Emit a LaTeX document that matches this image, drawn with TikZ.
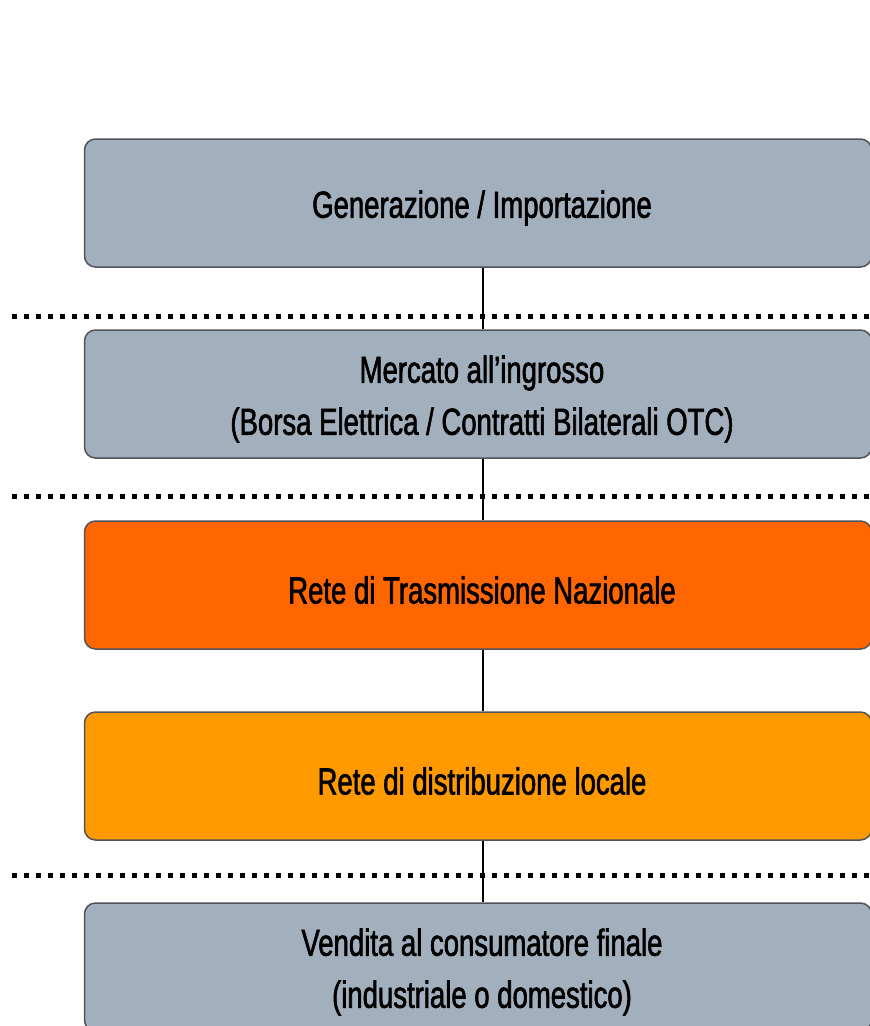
\documentclass[tikz,border=0pt]{standalone}
\usepackage{fontspec}
\setmainfont{Liberation Sans}[FakeStretch=0.73,FakeBold=1.6]
\usepackage{tikz}

\definecolor{boxgrey}{RGB}{162,175,189}
\definecolor{boxorange}{RGB}{255,102,0}
\definecolor{boxamber}{RGB}{255,153,0}
\definecolor{boxline}{RGB}{80,84,90}

\begin{document}
\begin{tikzpicture}[x=1pt,y=-1pt,
  stage/.style={draw=boxline,line width=1.5pt,rounded corners=11pt,
    minimum width=787pt,minimum height=128pt,inner sep=0pt},
  stagetext/.style={align=center,inner sep=0pt,
    font=\fontsize{37.7}{52}\selectfont},
  sep/.style={line width=5pt,dash pattern=on 5pt off 7pt},
  link/.style={line width=2pt}]
\clip (0,0) rectangle (870,1026);
\fill[white] (0,0) rectangle (870,1026);
%
\draw[sep] (12,316) -- (870,316);
\draw[sep] (12,496) -- (870,496);
\draw[sep] (12,875) -- (870,875);
%
\node[stage,fill=boxgrey] (gen) at (478,203) {};
\node[stage,fill=boxgrey] (ingr) at (478,394) {};
\node[stage,fill=boxorange] (rtn) at (478,585) {};
\node[stage,fill=boxamber] (distr) at (478,776) {};
\node[stage,fill=boxgrey] (vend) at (478,967) {};
%
\node[stagetext] (gentxt) at ([xshift=4pt,yshift=-5pt]gen.center) {Generazione / Importazione};
\node[stagetext] (ingrtxt) at ([xshift=4pt,yshift=-5pt]ingr.center) {Mercato all’ingrosso\\(Borsa Elettrica / Contratti Bilaterali OTC)};
\node[stagetext] (rtntxt) at ([xshift=4pt,yshift=-5pt]rtn.center) {Rete di Trasmissione Nazionale};
\node[stagetext] (distrtxt) at ([xshift=4pt,yshift=-5pt]distr.center) {Rete di distribuzione locale};
\node[stagetext] (vendtxt) at ([xshift=4pt,yshift=-5pt]vend.center) {Vendita al consumatore finale\\(industriale o domestico)};
%
\draw[link] ([xshift=5pt]gen.south) -- ([xshift=5pt]ingr.north);
\draw[link] ([xshift=5pt]ingr.south) -- ([xshift=5pt]rtn.north);
\draw[link] ([xshift=5pt]rtn.south) -- ([xshift=5pt]distr.north);
\draw[link] ([xshift=5pt]distr.south) -- ([xshift=5pt]vend.north);
\end{tikzpicture}
\end{document}
